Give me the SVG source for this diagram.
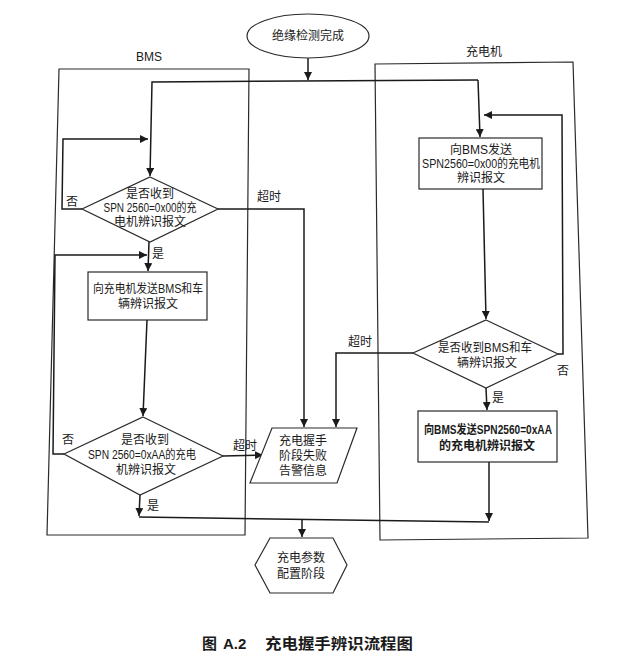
<svg xmlns="http://www.w3.org/2000/svg" width="640" height="669" viewBox="0 0 640 669">
<defs>
<marker id="ah" viewBox="0 0 10 10" refX="10" refY="5" markerWidth="8" markerHeight="8" markerUnits="userSpaceOnUse" orient="auto">
<path d="M0,0 L10,5 L0,10 z" fill="#1a1a1a"/>
</marker>
<style>
.s{fill:none;stroke:#2a2a2a;stroke-width:1.2}
.n{fill:#fff;stroke:#2a2a2a;stroke-width:1.2}
.c{fill:none;stroke:#1a1a1a;stroke-width:1.5;marker-end:url(#ah)}
.l{fill:none;stroke:#1a1a1a;stroke-width:1.5}
text{font-family:"Liberation Sans","Noto Sans CJK SC",sans-serif;font-size:12px;fill:#1a1a1a;text-anchor:middle;dominant-baseline:central}
.b{font-weight:bold}
.cap{font-size:15px;font-weight:bold;text-anchor:start}
</style>
</defs>
<rect width="640" height="669" fill="#fff"/>
<g id="lanes">
<polygon class="s" points="59,69 249,69 245,535 47,535"/>
<text x="149" y="57">BMS</text>
<polygon class="s" points="375,64 573,62 588,538 380,540"/>
<text x="484" y="52">充电机</text>
</g>
<g id="connectors">
<path class="c" d="M308,58 L308,80"/>
<path class="c" d="M478,80 L152,82 L150,176"/>
<path class="c" d="M478,80 L480,137"/>
<path class="c" d="M82,209 L62,209 L63,139 L148,139"/>
<path class="c" d="M218,209 L304,209 L304,427"/>
<path class="c" d="M149,242 L148,271"/>
<path class="c" d="M64,454 L53,454 L55,255 L147,255"/>
<path class="c" d="M147,320 L143,416"/>
<path class="c" d="M223,456 L263,455"/>
<path class="c" d="M140,495 L139,516"/>
<path class="l" d="M139,517 L489,522"/>
<path class="c" d="M302,520 L302,537"/>
<path class="c" d="M483,189 L486,319"/>
<path class="c" d="M558,354 L563,354 L562,115 L484,115"/>
<path class="c" d="M413,353 L336,353 L336,427"/>
<path class="c" d="M486,388 L487,410"/>
<path class="c" d="M489,462 L489,521"/>
<text x="72" y="202">否</text>
<text x="269" y="197">超时</text>
<text x="158" y="254">是</text>
<text x="68" y="440">否</text>
<text x="245" y="446">超时</text>
<text x="153" y="506">是</text>
<text x="360" y="342">超时</text>
<text x="563" y="371">否</text>
<text x="498" y="398">是</text>
</g>
<g id="start">
<ellipse class="n" cx="308" cy="36" rx="61" ry="22"/>
<text x="308" y="36">绝缘检测完成</text>
</g>
<g id="bms_check1">
<polygon class="n" points="150,177 218,209 150,242 82,209"/>
<text x="150" y="194">是否收到</text>
<text x="150" y="208" textLength="93" lengthAdjust="spacingAndGlyphs">SPN 2560=0x00的充</text>
<text x="150" y="222">电机辨识报文</text>
</g>
<g id="bms_send">
<rect class="n" x="88" y="272" width="119" height="48"/>
<text x="148" y="289" textLength="110" lengthAdjust="spacingAndGlyphs">向充电机发送BMS和车</text>
<text x="148" y="304">辆辨识报文</text>
</g>
<g id="bms_check2">
<polygon class="n" points="143,417 223,456 140,495 64,454"/>
<text x="145" y="440">是否收到</text>
<text x="142" y="455" textLength="108" lengthAdjust="spacingAndGlyphs">SPN 2560=0xAA的充电</text>
<text x="146" y="470">机辨识报文</text>
</g>
<g id="fail">
<polygon class="n" points="272,428 357,428 337,483 250,483"/>
<text x="303" y="441">充电握手</text>
<text x="303" y="456">阶段失败</text>
<text x="303" y="471">告警信息</text>
</g>
<g id="charger_send1">
<rect class="n" x="419" y="138" width="123" height="51"/>
<text x="481" y="150">向BMS发送</text>
<text x="481" y="164" textLength="118" lengthAdjust="spacingAndGlyphs">SPN2560=0x00的充电机</text>
<text x="481" y="178">辨识报文</text>
</g>
<g id="charger_check">
<polygon class="n" points="486,320 558,354 486,388 413,353"/>
<text x="485" y="348" textLength="94" lengthAdjust="spacingAndGlyphs">是否收到BMS和车</text>
<text x="487" y="363">辆辨识报文</text>
</g>
<g id="charger_send2">
<rect class="n" x="418" y="411" width="139" height="51"/>
<text class="b" x="488" y="430" textLength="128" lengthAdjust="spacingAndGlyphs">向BMS发送SPN2560=0xAA</text>
<text class="b" x="487" y="446">的充电机辨识报文</text>
</g>
<g id="config">
<polygon class="n" points="270,538 333,538 347,565 333,593 270,593 255,565"/>
<text x="301" y="558">充电参数</text>
<text x="301" y="574">配置阶段</text>
</g>
<g id="caption">
<text class="cap" x="202" y="643">图</text>
<text class="cap" x="223" y="643" font-family="Liberation Serif">A.2</text>
<text class="cap" x="265" y="643" textLength="148" lengthAdjust="spacingAndGlyphs">充电握手辨识流程图</text>
</g>
</svg>
